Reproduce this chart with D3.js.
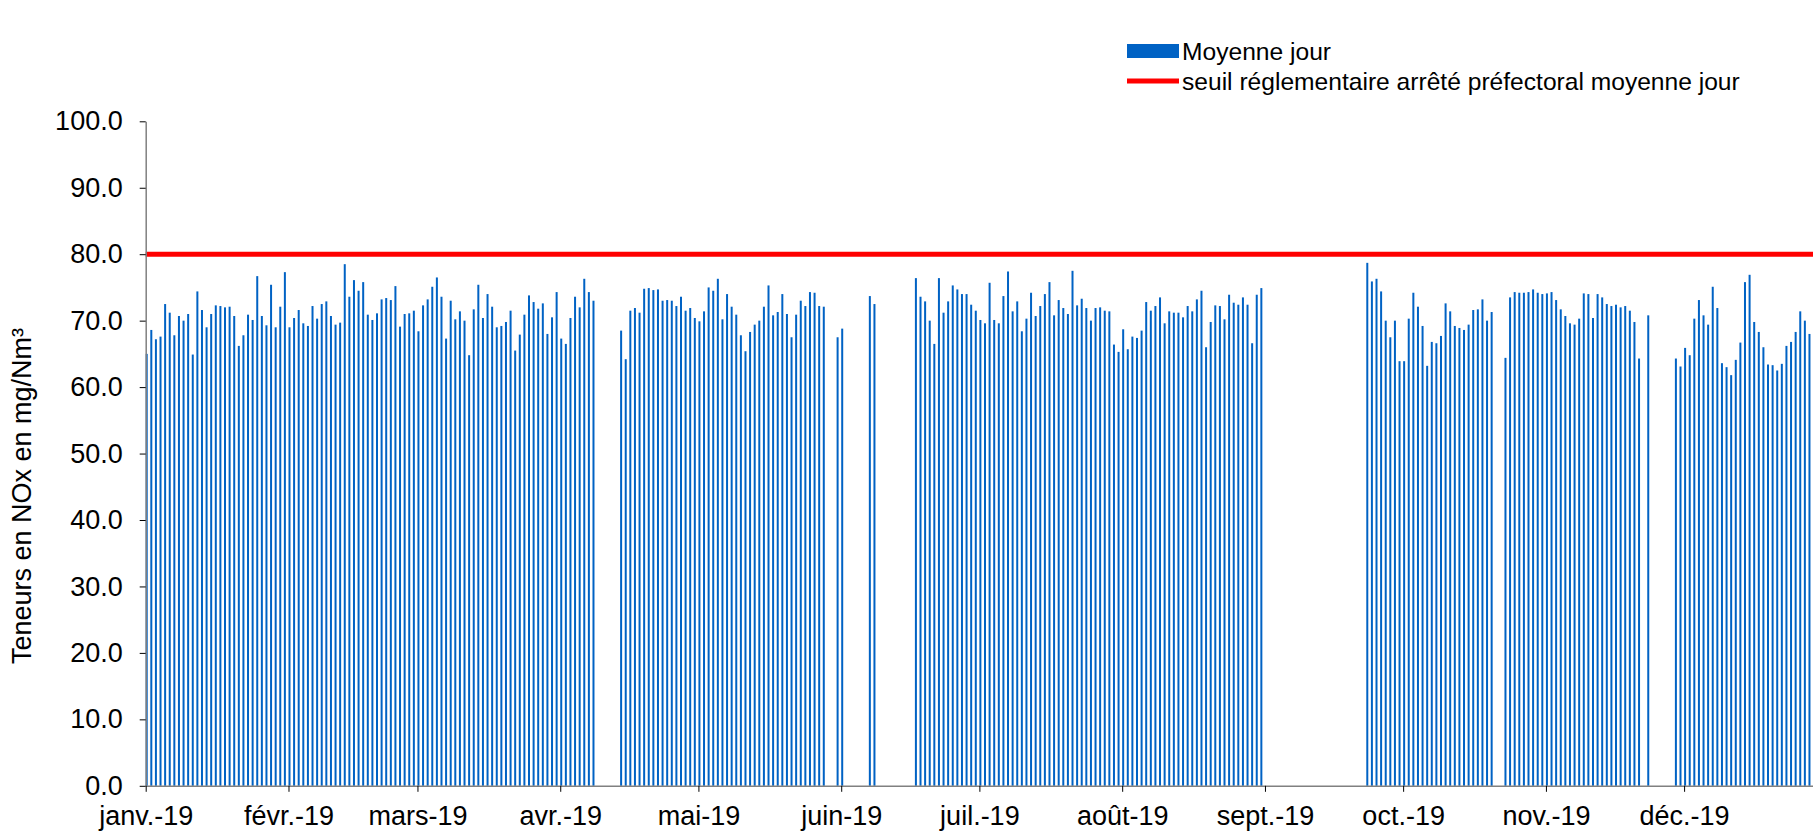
<!DOCTYPE html>
<html>
<head>
<meta charset="utf-8">
<script src="https://cdn.jsdelivr.net/npm/d3@7"></script>
<style>
  body { margin: 0; background: #fff; }
  svg { display: block; font-family: "Liberation Sans", Arial, sans-serif; }
</style>
</head>
<body>
<div id="chart"></div>
<script>
// Daily means (NOx, mg/Nm3), one array per month, null = no measurement
var jan = [65.0, 68.6, 67.2, 67.6, 72.5, 71.2, 67.8, 70.7, 70.0, 71.0, 64.9, 74.4, 71.6, 69.0, 71.0, 72.3,
           72.2, 72.0, 72.1, 70.7, 66.2, 67.8, 70.9, 70.1, 76.7, 70.7, 69.3, 75.4, 69.0, 72.1, 77.3];
var feb = [69.0, 70.4, 71.6, 69.6, 69.2, 72.2, 70.3, 72.5, 72.9, 70.7, 69.4, 69.7, 78.5, 73.6, 76.1, 74.5,
           75.8, 70.9, 70.1, 71.1, 73.2, 73.4, 73.1, 75.2, 69.1, 71.0, 71.1, 71.5];
var mar = [68.4, 72.3, 73.2, 75.1, 76.5, 73.6, 67.3, 73.0, 70.2, 71.4, 70.0, 64.8, 71.7, 75.4, 70.4, 74.0,
           72.1, 69.0, 69.2, 69.8, 71.5, 65.5, 67.9, 70.9, 73.8, 72.8, 71.8, 72.6, 68.0, 70.5, 74.3];
var apr = [67.3, 66.5, 70.4, 73.6, 72.0, 76.3, 74.3, 73.0, null, null, null, null, null, 68.5, 64.2, 71.5,
           71.9, 71.2, 74.8, 74.9, 74.6, 74.7, 73.0, 73.1, 73.0, 72.2, 73.6, 71.5, 71.9, 70.4];
var may = [69.9, 71.4, 75.0, 74.5, 76.3, 70.2, 74.0, 72.1, 70.9, 67.8, 65.4, 68.3, 69.4, 70.0, 72.1, 75.3,
           70.8, 71.3, 74.0, 71.0, 67.5, 70.9, 73.0, 72.2, 74.3, 74.2, 72.2, 72.1, null, null, 67.5];
var jun = [68.8, null, null, null, null, null, 73.7, 72.5, null, null, null, null, null, null, null, null,
           76.4, 73.6, 72.9, 70.0, 66.5, 76.4, 71.2, 72.9, 75.3, 74.7, 74.0, 74.0, 72.4, 71.5];
var jul = [70.1, 69.6, 75.7, 70.1, 69.6, 73.7, 77.4, 71.4, 72.9, 68.4, 70.3, 74.2, 70.7, 72.2, 74.0, 75.8,
           70.8, 73.1, 71.9, 71.0, 77.5, 72.3, 73.3, 71.9, 70.0, 71.9, 72.0, 71.5, 71.4, 66.4, 65.3];
var aug = [68.7, 65.7, 67.6, 67.4, 68.5, 72.8, 71.5, 72.2, 73.5, 69.6, 71.4, 71.2, 71.2, 70.5, 72.2, 71.4,
           73.2, 74.5, 66.0, 69.8, 72.3, 72.2, 70.2, 73.9, 72.7, 72.4, 73.5, 72.4, 66.6, 73.9, 74.9];
var sep = [null, null, null, null, null, null, null, null, null, null, null, null, null, null, null, null,
           null, null, null, null, null, null, 78.7, 75.9, 76.3, 74.4, 70.0, 67.5, 70.0, 63.9];
var oct = [63.9, 70.3, 74.2, 72.1, 69.2, 63.2, 66.8, 66.6, 67.7, 72.6, 71.4, 69.2, 68.9, 68.6, 69.4, 71.6,
           71.7, 73.2, 70.0, 71.3, null, null, 64.4, 73.5, 74.3, 74.2, 74.2, 74.3, 74.7, 74.2, 74.0];
var nov = [74.1, 74.3, 73.1, 71.7, 70.7, 69.6, 69.4, 70.3, 74.1, 74.0, 70.4, 74.0, 73.5, 72.5, 72.2, 72.4,
           72.0, 72.2, 71.5, 69.8, 64.3, null, 70.8, null, null, null, null, null, 64.3, 63.1];
var dec = [65.9, 64.8, 70.3, 73.1, 70.8, 69.4, 75.1, 71.9, 63.6, 63.0, 61.8, 64.1, 66.7, 75.8, 76.9, 69.8,
           68.3, 66.0, 63.4, 63.3, 62.5, 63.5, 66.2, 66.8, 68.3, 71.4, 70.0, 68.0, null, null, null];

var monthLabels = ["janv.-19", "févr.-19", "mars-19", "avr.-19", "mai-19", "juin-19",
                   "juil.-19", "août-19", "sept.-19", "oct.-19", "nov.-19", "déc.-19"];
var yTicks = [0, 10, 20, 30, 40, 50, 60, 70, 80, 90, 100];
var threshold = 80;
var seriesName = "Moyenne jour";
var thresholdName = "seuil réglementaire arrêté préfectoral moyenne jour";
var yTitle = "Teneurs en NOx en mg/Nm³";

var chart_width  = 1813;
var chart_height = 832;
var plot_left    = 145.7;
var plot_top     = 121.3;
var plot_bottom  = 785.8;
var day_px       = 4.606;

var months = [jan, feb, mar, apr, may, jun, jul, aug, sep, oct, nov, dec];
var data = [];
months.forEach(function(m, mi) {
  m.forEach(function(v, d) {
    if (v != null) data.push({ date: new Date(2019, mi, d + 1), value: v });
  });
});

var x = d3.scaleTime()
          .domain([new Date(2019, 0, 1), new Date(2020, 0, 1)])
          .range([plot_left, plot_left + 365 * day_px]);
var y = d3.scaleLinear()
          .domain([0, 100])
          .range([plot_bottom, plot_top]);

var svg = d3.select('#chart')
            .append('svg')
            .attr('width', chart_width)
            .attr('height', chart_height);

// bars
svg.append('g')
   .selectAll('rect')
   .data(data)
   .enter()
   .append('rect')
   .attr('x', function(d) { return x(d.date); })
   .attr('y', function(d) { return y(d.value); })
   .attr('width', 2)
   .attr('height', function(d) { return y(0) - y(d.value); })
   .attr('fill', '#0062c4');

// threshold line
svg.append('line')
   .attr('x1', plot_left).attr('x2', chart_width)
   .attr('y1', y(threshold)).attr('y2', y(threshold))
   .attr('stroke', '#ff0000')
   .attr('stroke-width', 5);

// y axis
var yAxis = svg.append('g')
   .attr('transform', 'translate(' + plot_left + ',0)')
   .call(d3.axisLeft(y).tickValues(yTicks).tickFormat(d3.format('.1f'))
           .tickSize(6).tickSizeOuter(0).tickPadding(17));
yAxis.select('.domain').attr('stroke', '#808080').attr('stroke-width', 1.5);
yAxis.selectAll('.tick line').attr('stroke', '#000');
yAxis.selectAll('text').attr('font-size', 27).attr('fill', '#000')
     .style('font-family', '"Liberation Sans", Arial, sans-serif');

// x axis
var monthStarts = d3.range(12).map(function(i) { return new Date(2019, i, 1); });
var xAxis = svg.append('g')
   .attr('transform', 'translate(0,' + plot_bottom + ')')
   .call(d3.axisBottom(x).tickValues(monthStarts)
           .tickFormat(function(d, i) { return monthLabels[i]; })
           .tickSize(6).tickSizeOuter(0).tickPadding(14));
xAxis.select('.domain').attr('stroke', '#808080').attr('stroke-width', 1.5);
xAxis.selectAll('.tick line').attr('stroke', '#000');
xAxis.selectAll('text').attr('font-size', 27).attr('fill', '#000')
     .style('font-family', '"Liberation Sans", Arial, sans-serif');

// y title
svg.append('text')
   .attr('transform', 'translate(31,' + 496 + ') rotate(-90)')
   .attr('text-anchor', 'middle')
   .attr('font-size', 27)
   .text(yTitle);

// legend
var legend = svg.append('g');
legend.append('rect')
      .attr('x', 1127).attr('y', 44)
      .attr('width', 52).attr('height', 14)
      .attr('fill', '#0062c4');
legend.append('text')
      .attr('x', 1182).attr('y', 60)
      .attr('font-size', 24.6)
      .text(seriesName);
legend.append('line')
      .attr('x1', 1127).attr('x2', 1179)
      .attr('y1', 81).attr('y2', 81)
      .attr('stroke', '#ff0000').attr('stroke-width', 5);
legend.append('text')
      .attr('x', 1182).attr('y', 90)
      .attr('font-size', 24.6)
      .text(thresholdName);
</script>
</body>
</html>
